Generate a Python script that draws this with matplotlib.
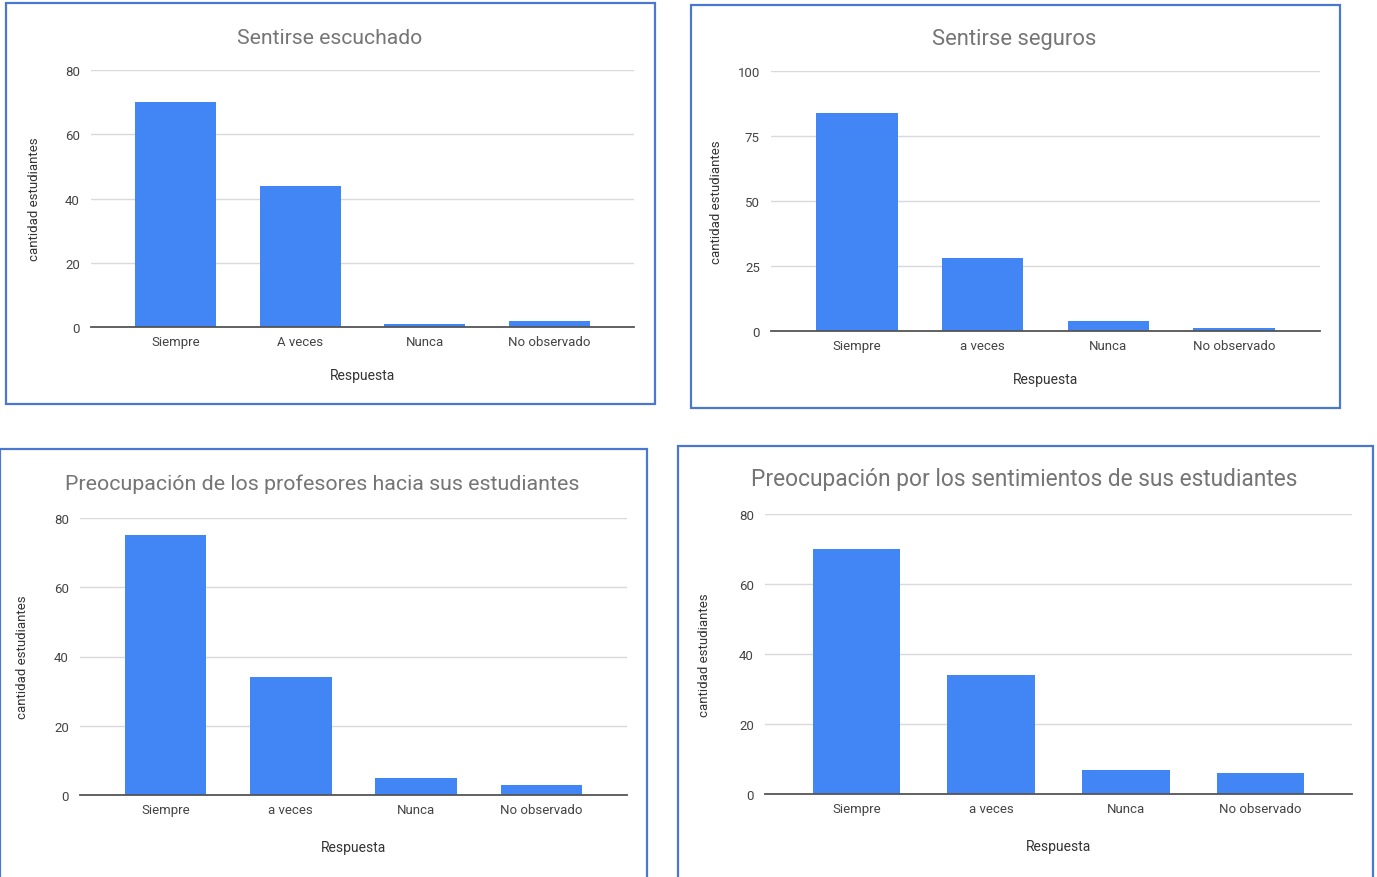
import matplotlib
matplotlib.use('Agg')
import matplotlib.pyplot as plt
from matplotlib.patches import Rectangle

plt.rcParams['font.family'] = ['Roboto', 'DejaVu Sans']

W, H = 1377, 878

escuchado_labels = ['Siempre', 'A veces', 'Nunca', 'No observado']
escuchado_values = [70, 44, 1, 2]

seguros_labels = ['Siempre', 'a veces', 'Nunca', 'No observado']
seguros_values = [84, 28, 4, 1]

profesores_labels = ['Siempre', 'a veces', 'Nunca', 'No observado']
profesores_values = [75, 34, 5, 3]

sentimientos_labels = ['Siempre', 'a veces', 'Nunca', 'No observado']
sentimientos_values = [70, 34, 7, 6]

BAR_COLOR = '#4285f4'
BORDER_COLOR = '#4a78d0'


def px(x0, y0, x1, y1):
    # caja en pixeles (origen arriba a la izquierda) -> fracciones de figura
    return [x0 / W, 1 - y1 / H, (x1 - x0) / W, (y1 - y0) / H]


def draw_panel(fig, border, axbox, title, title_xy, title_size, labels, values,
               yticks, ylabel_x, xlabel_y):
    fig.add_artist(Rectangle((border[0] / W, 1 - border[3] / H),
                             (border[2] - border[0]) / W, (border[3] - border[1]) / H,
                             transform=fig.transFigure, fill=False,
                             edgecolor=BORDER_COLOR, linewidth=1.6))

    ax = fig.add_axes(px(*axbox))
    x = range(len(values))
    ax.bar(x, values, width=0.65, color=BAR_COLOR, zorder=3)
    ax.set_xlim(-0.68, len(values) - 1 + 0.68)
    ax.set_ylim(0, yticks[-1])
    ax.set_yticks(yticks)
    ax.set_xticks(list(x))
    ax.set_xticklabels(labels)
    ax.tick_params(axis='both', length=0, labelsize=9.5, colors='#444444', pad=6)
    ax.tick_params(axis='y', pad=8)
    ax.grid(axis='y', color='#d9d9d9', linewidth=1, zorder=0)
    for s in ['top', 'right', 'left']:
        ax.spines[s].set_visible(False)
    ax.spines['bottom'].set_color('#555555')
    ax.spines['bottom'].set_linewidth(1.3)
    ax.spines['bottom'].set_zorder(4)

    fig.text(title_xy[0] / W, 1 - title_xy[1] / H, title, ha='center', va='center',
             fontsize=title_size, color='#757575')
    cy = (axbox[1] + axbox[3]) / 2
    fig.text(ylabel_x / W, 1 - cy / H, 'cantidad estudiantes', rotation=90,
             ha='center', va='center', fontsize=9.5, color='#333333')
    cx = (axbox[0] + axbox[2]) / 2
    fig.text(cx / W, 1 - xlabel_y / H, 'Respuesta', ha='center', va='center',
             fontsize=10, color='#333333')
    return ax


fig = plt.figure(figsize=(W / 100, H / 100), dpi=100)
fig.patch.set_facecolor('white')

draw_panel(fig, (6, 4, 655, 405), (91, 71, 634, 328), 'Sentirse escuchado',
           (330, 38), 15.2, escuchado_labels, escuchado_values,
           [0, 20, 40, 60, 80], 35, 376)

draw_panel(fig, (691, 6, 1340, 409), (771, 72, 1320, 332), 'Sentirse seguros',
           (1014, 40), 15.8, seguros_labels, seguros_values,
           [0, 25, 50, 75, 100], 716, 380)

draw_panel(fig, (0, 450, 647, 880), (80, 519, 627, 796),
           'Preocupación de los profesores hacia sus estudiantes',
           (322, 484), 15.4, profesores_labels, profesores_values,
           [0, 20, 40, 60, 80], 23, 848)

draw_panel(fig, (678, 447, 1373, 880), (765, 515, 1352, 795),
           'Preocupación por los sentimientos de sus estudiantes',
           (1024, 480), 16.4, sentimientos_labels, sentimientos_values,
           [0, 20, 40, 60, 80], 705, 847)

fig.savefig('out.png', dpi=100)
